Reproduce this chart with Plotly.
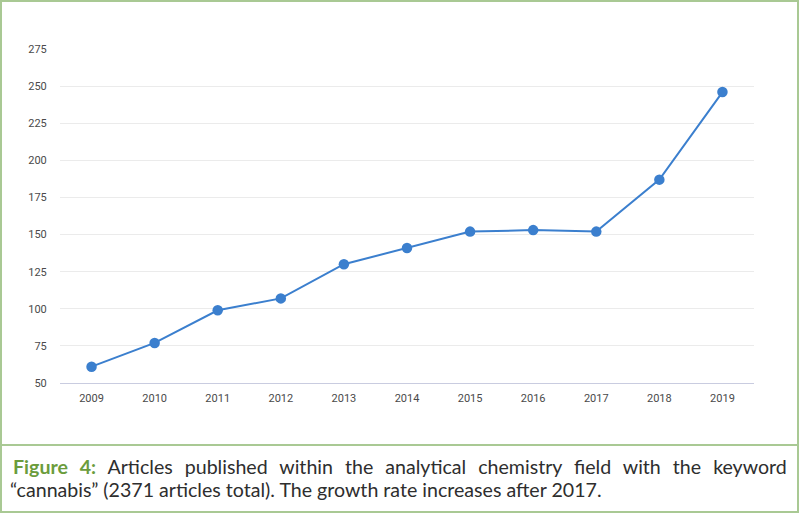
import plotly.graph_objects as go

years = ["2009", "2010", "2011", "2012", "2013", "2014", "2015", "2016", "2017", "2018", "2019"]
articles = [61, 77, 99, 107, 130, 141, 152, 153, 152, 187, 246]
y_ticks = [50, 75, 100, 125, 150, 175, 200, 225, 250, 275]

caption_label = "Figure 4:"
caption_line1 = "Articles published within the analytical chemistry field with the keyword"
caption_line2 = "\u201ccannabis\u201d (2371 articles total). The growth rate increases after 2017."

W, H = 800, 513
ML, MR, MT, MB = 60, 46, 49, 130
PW, PH = W - ML - MR, H - MT - MB

def px(x):
    return (x - ML) / PW

def py(y):
    return 1 - (y - MT) / PH

line_color = "#3b7fce"
green = "#a9c994"
cap_font = dict(family="Lato", size=19.6, color="#2e2e2e")
ws = "word-spacing:7px"

fig = go.Figure()
fig.add_trace(go.Scatter(
    x=years, y=articles, mode="lines+markers",
    line=dict(color=line_color, width=2),
    marker=dict(color=line_color, size=10.5),
    hoverinfo="x+y", showlegend=False,
))

shapes = [
    dict(type="rect", xref="paper", yref="paper", x0=px(1), x1=px(W - 2), y0=py(1), y1=py(H - 1),
         line=dict(color=green, width=2), fillcolor="rgba(0,0,0,0)", layer="below"),
    dict(type="line", xref="paper", yref="paper", x0=px(1), x1=px(W - 2), y0=py(445), y1=py(445),
         line=dict(color=green, width=2)),
]

annotations = [
    dict(xref="paper", yref="paper", x=px(11), y=py(466), xanchor="left", yanchor="middle",
         text=(f"<span style='color:#6b9c3c;font-weight:bold;{ws}'>{caption_label}</span>"
               f"<span style='{ws}'> {caption_line1}</span>"),
         showarrow=False, font=cap_font),
    dict(xref="paper", yref="paper", x=px(8), y=py(489), xanchor="left", yanchor="middle",
         text=caption_line2, showarrow=False, font=cap_font),
]

fig.update_layout(
    width=W, height=H,
    margin=dict(l=ML, r=MR, t=MT, b=MB),
    paper_bgcolor="white", plot_bgcolor="white",
    shapes=shapes, annotations=annotations,
    xaxis=dict(type="category", range=[-0.5, len(years) - 0.5], showgrid=False,
               showline=True, linecolor="#c9cce0", linewidth=1,
               ticks="outside", ticklen=5, tickcolor="rgba(0,0,0,0)",
               tickfont=dict(family="Roboto", size=11, color="#4a4a4a"), zeroline=False),
    yaxis=dict(range=[50, 275], tickvals=y_ticks, showgrid=True, gridcolor="#ebebeb", gridwidth=1,
               zeroline=False, showline=False, ticks="outside", ticklen=10,
               tickcolor="rgba(0,0,0,0)",
               tickfont=dict(family="Roboto", size=11, color="#4a4a4a")),
)

fig.write_html("out.html", config={"displayModeBar": False},
               post_script="document.body.style.margin='0';document.body.style.overflow='hidden';")
